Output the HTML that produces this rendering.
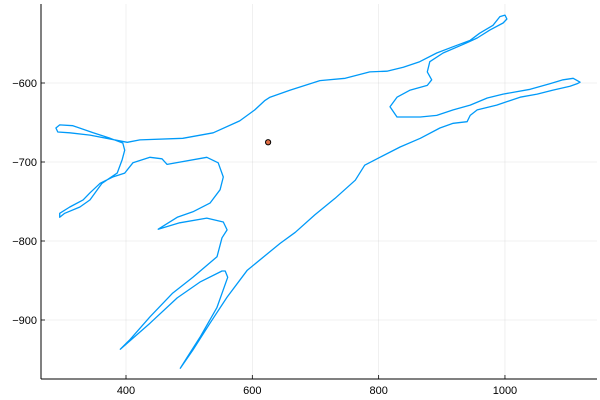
<!DOCTYPE html>
<html><head><meta charset="utf-8"><style>
html,body{margin:0;padding:0;background:#fff;}
svg{display:block;font-family:"Liberation Sans",sans-serif;}
</style></head><body>
<svg id="chart" width="600" height="400" xmlns="http://www.w3.org/2000/svg">
<g id="grid"></g>
<g id="axes"></g>
<g id="series"></g>
</svg>
<script>
const xTicks=[400,600,800,1000];
const yTicks=[-600,-700,-800,-900];
const xTickLabels=["400","600","800","1000"];
const yTickLabels=["\u2212600","\u2212700","\u2212800","\u2212900"];
const pathX=[580,604,620,628,660,707,747,786,813,839,865,892,918,945,960,981,992,1000,1003,997,976,956,940,902,881,877,884,877,850,829,818,829,866,892,918,945,972,997,1040,1071,1092,1108,1119,1114,1103,1076,1051,1024,987,956,945,940,918,897,866,834,802,778,763,731,699,668,644,592,560,533,506,486,497,517,544,561,557,552,517,481,438,391,406,438,474,506,544,552,560,554,528,485,451,481,506,533,549,554,546,528,465,457,438,411,398,379,359,343,332,311,295,295,303,327,343,362,386,394,398,395,375,348,316,295,289,292,311,343,402,422,490,538,580];
const pathY=[-648,-634,-622,-618,-609,-597,-594,-586,-585,-580,-573,-562,-554,-546,-537,-527,-516,-514,-519,-524,-533,-543,-549,-562,-573,-586,-596,-603,-609,-618,-630,-643,-643,-641,-634,-628,-619,-614,-608,-601,-596,-594,-599,-601,-604,-609,-614,-618,-628,-634,-641,-649,-651,-657,-670,-681,-694,-704,-723,-746,-767,-789,-803,-837,-871,-904,-938,-961,-947,-922,-884,-846,-838,-838,-852,-872,-904,-937,-925,-896,-866,-846,-820,-796,-786,-776,-771,-777,-785,-770,-763,-752,-735,-719,-701,-694,-703,-696,-694,-701,-714,-719,-727,-739,-748,-757,-765,-770,-765,-757,-748,-727,-714,-697,-685,-676,-670,-663,-654,-653,-657,-662,-663,-666,-675,-672,-670,-663,-648];
const pointX=[625];
const pointY=[-675];

const L=41,R=597,T=4,B=379;
function sx(v){return 126+(v-400)*0.6316;}
function sy(v){return 83+(-600-v)*0.79;}
const NS="http://www.w3.org/2000/svg";
function mk(t,a,p){const e=document.createElementNS(NS,t);for(const k in a)e.setAttribute(k,a[k]);p.appendChild(e);return e;}
const grid=document.getElementById('grid'),axes=document.getElementById('axes'),series=document.getElementById('series');
xTicks.forEach((v,i)=>{
 const g=mk('line',{x1:sx(v),x2:sx(v),y1:T,y2:B,stroke:'#000','stroke-opacity':0.1,'stroke-width':0.6},grid);
 
 
 const t=mk('line',{x1:sx(v),x2:sx(v),y1:B,y2:B-4,stroke:'#000','stroke-width':0.8},axes);
 
 
 const tx=mk('text',{x:sx(v),y:B+15,'text-anchor':'middle','font-size':11,fill:'#000'},axes);
 tx.textContent=xTickLabels[i];
 
 
});
yTicks.forEach((v,i)=>{
 const g=mk('line',{x1:L,x2:R,y1:sy(v),y2:sy(v),stroke:'#000','stroke-opacity':0.1,'stroke-width':0.6},grid);
 
 
 const t=mk('line',{x1:L,x2:L+4,y1:sy(v),y2:sy(v),stroke:'#000','stroke-width':0.8},axes);
 
 
 const tx=mk('text',{x:L-4,y:sy(v)+4,'text-anchor':'end','font-size':11,fill:'#000'},axes);
 tx.textContent=yTickLabels[i];
 
 
});
const xa=mk('line',{x1:L,x2:R,y1:B,y2:B,stroke:'#000','stroke-width':1},axes);


const ya=mk('line',{x1:L,x2:L,y1:T,y2:B,stroke:'#000','stroke-width':1},axes);


let d='';
pathX.forEach((v,i)=>{d+=(i?'L':'M')+sx(v).toFixed(1)+','+sy(pathY[i]).toFixed(1);});
const p=mk('path',{d:d,fill:'none',stroke:'#009af9','stroke-width':1.3,'stroke-linejoin':'round','stroke-linecap':'round'},series);


pointX.forEach((v,i)=>{
 const c=mk('circle',{cx:sx(v),cy:sy(pointY[i]),r:2.6,fill:'#e26f46',stroke:'#000','stroke-width':1},series);
 
 
});
</script>
</body></html>
